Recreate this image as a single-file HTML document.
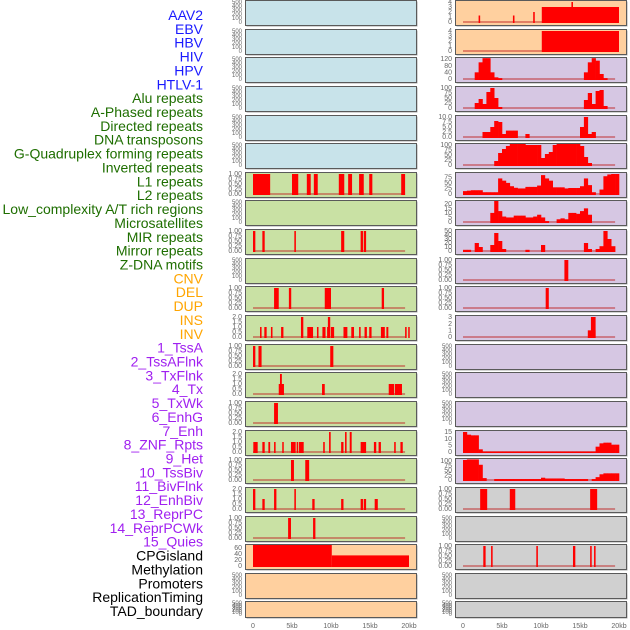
<!DOCTYPE html>
<html><head><meta charset="utf-8">
<style>
body{margin:0;background:#fff;width:630px;height:630px;overflow:hidden;font-family:"Liberation Sans",sans-serif}
svg{position:absolute;left:0;top:0}
</style></head>
<body>
<svg id="chart" width="630" height="630" xmlns="http://www.w3.org/2000/svg"></svg>
<script>
// ---------- labels ----------
const trackLabels=["AAV2","EBV","HBV","HIV","HPV","HTLV-1","Alu repeats","A-Phased repeats","Directed repeats","DNA transposons","G-Quadruplex forming repeats","Inverted repeats","L1 repeats","L2 repeats","Low_complexity A/T rich regions","Microsatellites","MIR repeats","Mirror repeats","Z-DNA motifs","CNV","DEL","DUP","INS","INV","1_TssA","2_TssAFlnk","3_TxFlnk","4_Tx","5_TxWk","6_EnhG","7_Enh","8_ZNF_Rpts","9_Het","10_TssBiv","11_BivFlnk","12_EnhBiv","13_ReprPC","14_ReprPCWk","15_Quies","CPGisland","Methylation","Promoters","ReplicationTiming","TAD_boundary"];
const labelGroups=[6,13,5,15,5];
const groupColors=["#1a1aff","#1e6e00","#ffa500","#a020f0","#000000"];
const xTickKb=[0,5,10,15,20];
const xTickText=["0","5kb","10kb","15kb","20kb"];
// ---------- interval data [startKb,endKb,value] ----------
const alu=[[0,2.2,1],[5,5.8,1],[6.9,7.4,1],[7.8,8.3,1],[11,11.7,1],[12.2,12.7,1],[13.6,14.2,1],[14.9,15.3,1],[19,19.5,1]];
const directed=[[0,0.3,1],[1.2,1.5,1],[5.3,5.5,1],[11.3,11.7,1],[13.8,14.1,1],[14.2,14.5,1]];
const gquadL=[[2.7,3.3,1],[4.6,4.9,1],[9.2,10,1],[16.5,16.8,1]];
const inverted=[[0.9,1.1,1],[1.45,1.75,1],[2.3,2.5,1],[3.6,3.9,1],[6.15,6.45,2],[6.96,7.7,1],[8.2,8.4,1],[8.9,9.3,1],[9.5,9.9,1],[9.6,9.9,2],[10,10.4,1],[11.6,12.1,1],[12.6,12.95,1],[13.6,13.8,1],[14.3,14.6,1],[14.9,15.2,1],[16.4,16.9,1],[17.1,17.35,1],[19.5,19.7,1],[19.9,20,1]];
const l1L=[[0,0.3,1],[0.7,1.1,1],[9.9,10.3,1]];
const l2L=[[3.3,3.97,1],[3.46,3.7,2],[8.85,9.2,1],[17.4,18.1,1],[18.2,19.1,1]];
const lowL=[[2.7,3.2,1]];
const microL=[[0.04,0.6,1],[1.2,1.5,1],[1.97,2.2,1],[2.7,2.9,1],[3.75,3.9,1],[4.87,5.47,1],[5.6,5.8,1],[5.9,6.5,1],[9,9.2,1],[9.75,9.96,2],[11.3,11.6,1],[11.8,12,2],[12.4,12.65,2],[13.8,14.5,1],[15.5,15.8,1],[16.1,16.4,1],[18.1,18.3,1],[18.9,19.2,1]];
const mirL=[[4.87,5.25,1],[6.7,7.2,1]];
const mirrorL=[[0,0.3,2],[1.2,1.5,1],[2.7,3,2],[5.3,5.5,2],[7.6,7.9,1],[11.3,11.6,1],[13.8,14.1,1],[14.2,14.5,1],[15.6,16,1]];
const zdna=[[4.5,4.87,1],[7.7,8,1]];
const cnv=[[0,10.1,73],[10.1,20,35]];
const ins=[[2,2.2,1.3],[6.4,6.6,1.3],[9,9.2,2],[10.1,20,3],[13.9,14.1,4]];
const inv=[[10.1,20,4]];
const znf=[[13,13.5,1]];
const het=[[10.6,11,1]];
const tssbiv=[[16,17,1],[16.4,17,3]];
const cpg=[[2.2,3.1,1],[6,6.7,1],[16.3,17.2,1]];
const promoters=[[2.6,2.9,1],[3.6,3.8,1],[9.4,9.6,1],[14.1,14.4,1],[16.3,16.5,1],[16.8,17,1]];
// ---------- binned profiles (0.5kb bins) ----------
const tssA=[0,0,0,40,100,125,125,40,10,5,0,0,0,0,0,0,0,0,0,0,0,0,0,0,0,0,0,0,0,0,0,40,100,125,110,30,5,0,0,0];
const tssAFlnk=[0,0,0,25,45,20,80,100,50,5,0,0,0,0,0,0,0,0,0,0,0,0,0,0,0,0,0,0,0,0,0,40,75,20,85,90,10,0,0,0];
const txFlnk=[0,0,0,0,0,2.5,2.5,5,8,7.5,1.5,3.2,3.2,3.2,0,0,1.5,0,0,0,0,0,0,0,0,0,0,0,0,0,5,10,1.5,2.5,0,0,0,0,0,0];
const tx=[0,0,0,0,0,0,0,0,20,60,80,95,105,105,105,105,100,100,100,100,35,55,65,100,108,108,108,108,108,108,95,40,10,0,0,0,0,0,0,0];
const txWk=[13,15,17,17,17,8,8,8,8,70,60,50,35,28,25,25,32,32,32,38,85,70,60,30,30,30,25,27,27,27,35,70,40,8,0,20,80,88,90,90];
const enhG=[0,0,0,0,0,0,0,10,25,12,6,5,5,7,7,7,5,5,6,8,5,1,0,0,3,4,3,10,10,9,12,15,8,0,0,0,0,0,0,0];
const enh=[3,3,0,20,10,0,0,15,45,25,5,0,0,0,0,0,3,0,0,0,15,0,0,0,0,0,0,0,0,0,0,20,5,0,5,12,50,30,12,0];
const reprPCWk=[15,13,12.5,12.5,2,0.3,0.3,0.3,0.3,0.3,0.3,0.3,0.3,0.3,0.3,0.3,0.3,0.3,0.3,0.3,0.3,0.3,0.3,0.3,0.3,0.3,0.3,0.3,0.3,0.3,0.3,0.3,0.3,0.3,4,6.5,7,7,5.5,5.5];
const quies=[105,108,108,108,80,10,0,0,5,5,5,5,5,5,5,5,5,5,5,5,12,8,8,8,8,8,5,5,5,5,5,5,0,5,15,30,35,35,35,35];
// ---------- tick sets ----------
const ticksEmpty=[0,100,200,300,400,500];
const ticksOne=[0,0.25,0.5,0.75,1];
const ticksTwo=[0,0.5,1,1.5,2];
const ticksFour=[0,1,2,3,4];
// ---------- panel list: [col,row,bgKey,intervals,bins,axisMax,ticks,decimals] ----------
const panels=[
[0,0,"b",null,null,500,ticksEmpty,0],[0,1,"b",null,null,500,ticksEmpty,0],[0,2,"b",null,null,500,ticksEmpty,0],
[0,3,"b",null,null,500,ticksEmpty,0],[0,4,"b",null,null,500,ticksEmpty,0],[0,5,"b",null,null,500,ticksEmpty,0],
[0,6,"g",alu,null,1,ticksOne,2],[0,7,"g",null,null,500,ticksEmpty,0],[0,8,"g",directed,null,1,ticksOne,2],
[0,9,"g",null,null,500,ticksEmpty,0],[0,10,"g",gquadL,null,1,ticksOne,2],[0,11,"g",inverted,null,2,ticksTwo,1],
[0,12,"g",l1L,null,1,ticksOne,2],[0,13,"g",l2L,null,2,ticksTwo,1],[0,14,"g",lowL,null,1,ticksOne,2],
[0,15,"g",microL,null,2,ticksTwo,1],[0,16,"g",mirL,null,1,ticksOne,2],[0,17,"g",mirrorL,null,2,ticksTwo,1],
[0,18,"g",zdna,null,1,ticksOne,2],[0,19,"o",cnv,null,66,[0,20,40,60],0],[0,20,"o",null,null,500,ticksEmpty,0],
[0,21,"o",null,null,500,ticksEmpty,0],
[1,0,"o",ins,null,4,ticksFour,0],[1,1,"o",inv,null,4,ticksFour,0],[1,2,"p",null,tssA,120,[0,40,80,120],0],
[1,3,"p",null,tssAFlnk,100,[0,25,50,75,100],0],[1,4,"p",null,txFlnk,10,[0,2.5,5,7.5,10],1],
[1,5,"p",null,tx,100,[0,25,50,75,100],0],[1,6,"p",null,txWk,90,[0,25,50,75],0],
[1,7,"p",null,enhG,22,[0,5,10,15,20],0],[1,8,"p",null,enh,50,[0,10,20,30,40,50],0],
[1,9,"p",znf,null,1,ticksOne,2],[1,10,"p",het,null,1,ticksOne,2],[1,11,"p",tssbiv,null,3,[0,1,2,3],0],
[1,12,"p",null,null,500,ticksEmpty,0],[1,13,"p",null,null,500,ticksEmpty,0],[1,14,"p",null,null,500,ticksEmpty,0],
[1,15,"p",null,reprPCWk,15,[0,5,10,15],0],[1,16,"p",null,quies,105,[0,25,50,75,100],0],
[1,17,"y",cpg,null,1,ticksOne,2],[1,18,"y",null,null,500,ticksEmpty,0],[1,19,"y",promoters,null,1,ticksOne,2],
[1,20,"y",null,null,500,ticksEmpty,0],[1,21,"y",null,null,500,ticksEmpty,0]
];
const bgColors={b:"#c8e3ea",g:"#c9e1a4",o:"#ffd09f",p:"#d6c7e3",y:"#d0d0d0"};

const NS="http://www.w3.org/2000/svg";
const svg=document.getElementById("chart");
function mk(tag,attrs,parent){const e=document.createElementNS(NS,tag);for(const k in attrs)e.setAttribute(k,attrs[k]);(parent||svg).appendChild(e);return e;}
const colLeft=[245,455];
const PW=171;
function xScale(col,kb){return colLeft[col]+8+kb*7.8;}
function rowTop(r){return Math.round(r*28.64);}
function rowH(r){return r===21?16:25;}

// labels
let li=0;
labelGroups.forEach((n,g)=>{for(let k=0;k<n;k++){const t=mk("text",{x:203,y:15+li*13.86+5,"text-anchor":"end","font-size":"14",fill:groupColors[g]});


t.textContent=trackLabels[li];li++;}});

panels.forEach(p=>{
  const [col,row,bg,iv,bins,mx,ticks,dec]=p;
  const top=rowTop(row),h=rowH(row),left=colLeft[col];
  const g=mk("g",{});
  
  
  mk("rect",{x:left+1.5,y:top+1.5,width:PW,height:h,fill:"#aaa"},g);
  mk("rect",{x:left+0.5,y:top+0.5,width:PW,height:h,fill:bgColors[bg],stroke:"#5a5a5a","stroke-width":1},g);
  const y0=top+h-3,y1=top+2;
  const yS=v=>y0-(v/mx)*(y0-y1);
  // ticks
  ticks.forEach(v=>{const t=mk("text",{x:left-3,y:yS(v)+2.2,"text-anchor":"end","font-size":mx===500?"6":"7",fill:"#666"},g);
    
    
    t.textContent=v.toFixed(dec);});
  if(!iv&&!bins)return;
  mk("rect",{x:xScale(col,0),y:y0-1,width:xScale(col,19.5)-xScale(col,0),height:2,fill:"rgba(190,30,30,0.45)"},g);
  const clipTop=top+1;
  if(iv)iv.forEach(d=>{const yy=Math.max(clipTop,yS(d[2]));const r=mk("rect",{x:xScale(col,d[0]),y:yy,width:Math.max(1.5,xScale(col,d[1])-xScale(col,d[0])),height:y0+1-yy,fill:"#ff0000"},g);
    
    });
  if(bins)bins.forEach((v,i)=>{if(v<=0)return;const yy=Math.max(clipTop,yS(v));const r=mk("rect",{x:xScale(col,i*0.5),y:yy,width:xScale(col,0.5)-xScale(col,0)+0.3,height:y0+1-yy,fill:"#ff0000"},g);
    
    });
});
// x axes
[0,1].forEach(col=>{xTickKb.forEach((k,i)=>{const t=mk("text",{x:xScale(col,k),y:628,"text-anchor":"middle","font-size":"7",fill:"#666"});
  
  
  t.textContent=xTickText[i];});});
</script>
</body></html>
